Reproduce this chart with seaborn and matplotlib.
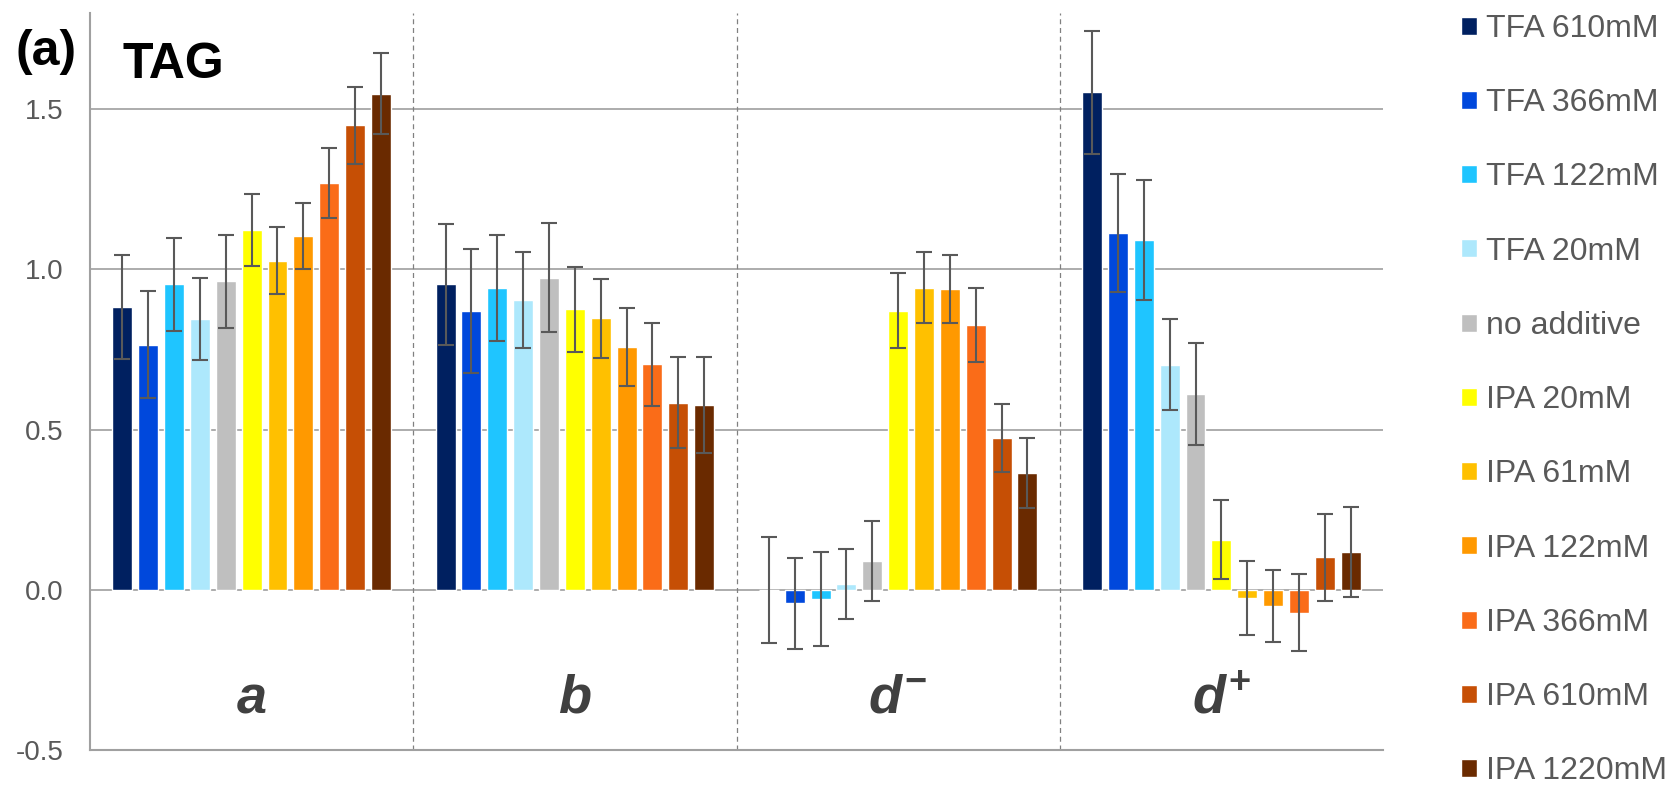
import matplotlib
matplotlib.use("Agg")
import matplotlib.pyplot as plt
import numpy as np
import pandas as pd
import seaborn as sns

# Data
groups = ["a", "b", "d-", "d+"]
group_labels = [r"$a$", r"$b$", r"$d^{-}$", r"$d^{+}$"]
additives = ["TFA 610mM", "TFA 366mM", "TFA 122mM", "TFA 20mM", "no additive",
             "IPA 20mM", "IPA 61mM", "IPA 122mM", "IPA 366mM", "IPA 610mM", "IPA 1220mM"]
colors = ["#002060", "#0048DC", "#1FC5FF", "#ADE8FC", "#BFBFBF",
          "#FFFF00", "#FFC000", "#FF9900", "#FA6C18", "#C64F05", "#6A2A00"]

tag_a = [0.883, 0.765, 0.953, 0.844, 0.963, 1.124, 1.027, 1.103, 1.270, 1.449, 1.548]
tag_b = [0.953, 0.870, 0.942, 0.903, 0.974, 0.875, 0.847, 0.757, 0.704, 0.584, 0.578]
tag_dm = [0.000, -0.042, -0.028, 0.018, 0.090, 0.871, 0.943, 0.939, 0.826, 0.473, 0.364]
tag_dp = [1.553, 1.113, 1.092, 0.703, 0.611, 0.156, -0.025, -0.050, -0.071, 0.102, 0.118]

err_a = [0.162, 0.166, 0.145, 0.128, 0.145, 0.112, 0.105, 0.103, 0.110, 0.120, 0.126]
err_b = [0.190, 0.195, 0.166, 0.150, 0.170, 0.132, 0.124, 0.121, 0.130, 0.143, 0.150]
err_dm = [0.165, 0.142, 0.146, 0.110, 0.124, 0.117, 0.110, 0.107, 0.115, 0.106, 0.109]
err_dp = [0.192, 0.183, 0.188, 0.142, 0.160, 0.123, 0.116, 0.112, 0.120, 0.136, 0.140]

yticks = [-0.5, 0.0, 0.5, 1.0, 1.5]
ytick_labels = ["-0.5", "0.0", "0.5", "1.0", "1.5"]

values = [tag_a, tag_b, tag_dm, tag_dp]
errors = [err_a, err_b, err_dm, err_dp]
df = pd.DataFrame({
    "group": np.repeat(groups, len(additives)),
    "additive": additives * len(groups),
    "value": np.concatenate(values),
    "err": np.concatenate(errors),
})

# Styling
sns.set_style("white")
plt.rcParams['font.family'] = ['Liberation Sans', 'DejaVu Sans']
plt.rcParams['axes.unicode_minus'] = False
plt.rcParams['mathtext.fontset'] = 'custom'
plt.rcParams['mathtext.it'] = 'Liberation Sans:italic:bold'
plt.rcParams['mathtext.rm'] = 'Liberation Sans:bold'
plt.rcParams['mathtext.bf'] = 'Liberation Sans:bold'

fig = plt.figure(figsize=(16.7, 7.89), dpi=100)
ax = fig.add_axes([90 / 1670, 39 / 789, 1293 / 1670, 737 / 789])

sns.barplot(data=df, x="group", y="value", hue="additive", order=groups,
            hue_order=additives, palette=colors, width=0.88, gap=0.23,
            errorbar=None, saturation=1, ax=ax, zorder=2)

# error bars at the bar centres
for cont, add in zip(ax.containers, additives):
    sub = df[df["additive"] == add].set_index("group").loc[groups]
    xs = [p.get_x() + p.get_width() / 2 for p in cont.patches]
    ax.errorbar(xs, sub["value"], yerr=sub["err"], fmt="none", ecolor="#595959",
                elinewidth=1.5, capsize=5.5, capthick=1.5, zorder=3)

ax.set_ylim(-0.5, 1.8)
ax.set_xlim(-0.5, 3.5)
ax.set_yticks(yticks)
ax.set_yticklabels(ytick_labels)
ax.tick_params(axis="y", length=0, pad=19, labelsize=20, labelcolor="#595959")
ax.set_xticks([])
ax.set_xlabel("")
ax.set_ylabel("")

ax.set_axisbelow(True)
ax.yaxis.grid(True, color="#A6A6A6", linewidth=1.3)
ax.xaxis.grid(False)
for side in ["top", "right"]:
    ax.spines[side].set_visible(False)
for side in ["left", "bottom"]:
    ax.spines[side].set_color("#A0A0A0")
    ax.spines[side].set_linewidth(1.5)

# group dividers
for xd in [0.5, 1.5, 2.5]:
    ax.axvline(xd, color="#808080", linewidth=0.9, linestyle=(0, (4, 3)), zorder=1)

# group names inside the plot
for i, lab in enumerate(group_labels):
    ax.text(i, -0.384, lab, ha="center", va="baseline", fontsize=39, color="#404040")

ax.text(0.025, 0.912, "TAG", transform=ax.transAxes, fontsize=36,
        fontweight="bold", color="black", va="baseline", ha="left")
fig.text(0.009, 1 - 65 / 789, "(a)", fontsize=36, fontweight="bold",
         color="black", va="baseline", ha="left")

handles, labels = ax.get_legend_handles_labels()
ax.legend(handles, labels, loc="upper left", bbox_to_anchor=(1461 / 1670, 1 - 14 / 789),
          bbox_transform=fig.transFigure, frameon=False, fontsize=23,
          labelcolor="#595959", handlelength=0.5, handleheight=0.5,
          handletextpad=0.27, labelspacing=1.385, borderpad=0, borderaxespad=0)

fig.savefig("out.png", dpi=100)
